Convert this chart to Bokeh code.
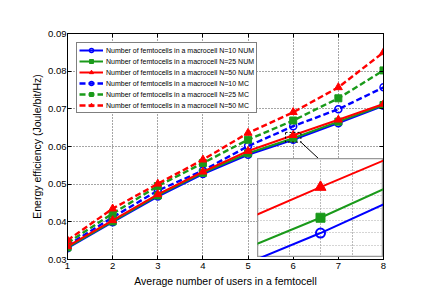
from bokeh.plotting import figure
from bokeh.models import (Range1d, FixedTicker, LinearAxis, Legend, LegendItem,
                          CustomJSTickFormatter, Grid)
from bokeh.embed import file_html
from bokeh.resources import INLINE

# ---------------- data ----------------
users = [1, 2, 3, 4, 5, 6, 7, 8]
num_n10 = [0.0330, 0.0399, 0.0467, 0.0527, 0.0578, 0.0618, 0.0662, 0.0708]
num_n25 = [0.0332, 0.0401, 0.0470, 0.0530, 0.0582, 0.0622, 0.0666, 0.0710]
num_n50 = [0.0335, 0.0404, 0.0473, 0.0533, 0.0588, 0.0630, 0.0671, 0.0713]
mc_n10 = [0.0337, 0.0412, 0.0483, 0.0536, 0.0601, 0.0654, 0.0699, 0.0757]
mc_n25 = [0.0344, 0.0422, 0.0495, 0.0556, 0.0618, 0.0669, 0.0728, 0.0802]
mc_n50 = [0.0351, 0.0435, 0.0501, 0.0565, 0.0636, 0.0691, 0.0757, 0.0850]
labels = [
    "Number of femtocells in a macrocell N=10 NUM",
    "Number of femtocells in a macrocell N=25 NUM",
    "Number of femtocells in a macrocell N=50 NUM",
    "Number of femtocells in a macrocell N=10 MC",
    "Number of femtocells in a macrocell N=25 MC",
    "Number of femtocells in a macrocell N=50 MC",
]
x_ticks = [1, 2, 3, 4, 5, 6, 7, 8]
y_ticks = [0.03, 0.04, 0.05, 0.06, 0.07, 0.08, 0.09]
zoom_x = (5.83, 6.17)
zoom_y = (0.06116, 0.06375)

BLUE = "#0000ff"
GREEN = "#1a9a1a"
RED = "#ff0000"
FONT = "Liberation Sans"

p = figure(width=430, height=300, x_range=Range1d(1, 8), y_range=Range1d(0.03, 0.09),
           output_backend="svg", toolbar_location=None,
           min_border_left=67, min_border_right=47, min_border_top=33, min_border_bottom=41)
p.outline_line_color = "black"
p.outline_line_width = 1
p.background_fill_color = "white"
p.border_fill_color = "white"

for ax in (p.xaxis[0], p.yaxis[0]):
    ax.major_tick_in = 4
    ax.major_tick_out = 0
    ax.minor_tick_line_color = None
    ax.axis_line_color = "black"
    ax.major_label_text_font = FONT
    ax.major_label_text_font_size = "9.5px"
    ax.major_label_text_color = "black"
    ax.axis_label_text_font = FONT
    ax.axis_label_text_font_size = "10.5px"
    ax.axis_label_text_font_style = "normal"
    ax.axis_label_text_color = "black"

p.xaxis.ticker = FixedTicker(ticks=x_ticks)
p.yaxis.ticker = FixedTicker(ticks=y_ticks)
p.xaxis.axis_label = "Average number of users in a femtocell"
p.yaxis.axis_label = "Energy efficiency (Joule/bit/Hz)"
p.xaxis.major_label_standoff = 3
p.xaxis.axis_label_standoff = 3
p.yaxis.major_label_standoff = 1
p.yaxis.axis_label_standoff = 2

blank = CustomJSTickFormatter(code="return ''")
ax_r = LinearAxis(ticker=FixedTicker(ticks=y_ticks), formatter=blank, major_tick_in=4,
                  major_tick_out=0, minor_tick_line_color=None, axis_line_color="black")
ax_t = LinearAxis(ticker=FixedTicker(ticks=x_ticks), formatter=blank, major_tick_in=4,
                  major_tick_out=0, minor_tick_line_color=None, axis_line_color="black")
p.add_layout(ax_r, "right")
p.add_layout(ax_t, "above")

p.xgrid.ticker = FixedTicker(ticks=x_ticks)
p.ygrid.ticker = FixedTicker(ticks=y_ticks)
for g in (p.xgrid[0], p.ygrid[0]):
    g.grid_line_color = "#222222"
    g.grid_line_dash = "1 2"
    g.grid_line_width = 1
    g.grid_line_alpha = 0.8

series = [
    (num_n10, BLUE, "circle", "solid"),
    (num_n25, GREEN, "square", "solid"),
    (num_n50, RED, "triangle", "solid"),
    (mc_n10, BLUE, "circle", "dashed"),
    (mc_n25, GREEN, "square", "dashed"),
    (mc_n50, RED, "triangle", "dashed"),
]
items = [None] * 6
order = [3, 4, 5, 0, 1, 2]
for i in order:
    ys, col, mk, style = series[i]
    dash = "solid" if style == "solid" else "6 3"
    lw = 2 if style == "solid" else 2.4
    lr = p.line(users, ys, line_color=col, line_width=lw, line_dash=dash)
    size = 8 if mk == "triangle" else 7
    if mk == "circle":
        sr = p.scatter(users, ys, marker=mk, size=size, line_color=col, line_width=1.5,
                       fill_color=None)
    else:
        sr = p.scatter(users, ys, marker=mk, size=size, line_color=col, fill_color=col)
    items[i] = LegendItem(label=labels[i], renderers=[lr, sr])

legend = Legend(items=items, location="top_left")
legend.margin = 9
legend.padding = 2
legend.spacing = 1
legend.label_height = 10
legend.glyph_height = 10
legend.glyph_width = 24
legend.label_standoff = 3
legend.label_text_font = FONT
legend.label_text_font_size = "7px"
legend.label_text_color = "black"
legend.border_line_color = "black"
legend.border_line_width = 1
legend.background_fill_alpha = 1
p.add_layout(legend, "center")

# zoom box and connector
p.quad(left=[zoom_x[0]], right=[zoom_x[1]], bottom=[zoom_y[0]], top=[zoom_y[1]],
       fill_color=None, line_color="black", line_dash="2 2", line_width=1)
p.line([zoom_x[1], 6.57], [zoom_y[0], 0.0567], line_color="black", line_width=1)

# ---------------- inset ----------------
ins = figure(width=126, height=99, x_range=Range1d(*zoom_x), y_range=Range1d(*zoom_y),
             output_backend="svg", toolbar_location=None,
             x_axis_location=None, y_axis_location=None,
             min_border_left=0, min_border_right=0, min_border_top=0, min_border_bottom=0)
ins.outline_line_color = "#999999"
ins.outline_line_width = 1.5
ins.background_fill_color = "white"
ins.border_fill_color = "white"
ins.xgrid.visible = False
ins.ygrid.visible = False
xs_step = (zoom_x[1] - zoom_x[0]) / 4
ys_step = (zoom_y[1] - zoom_y[0]) / 8
ins.add_layout(Grid(dimension=0, ticker=FixedTicker(ticks=[zoom_x[0] + k * xs_step for k in (1, 2, 3)]),
                    grid_line_color="#777777", grid_line_dash="1 2", grid_line_width=1))
ins.add_layout(Grid(dimension=1, ticker=FixedTicker(ticks=[zoom_y[0] + k * ys_step for k in range(1, 8)]),
                    grid_line_color="#aaaaaa", grid_line_dash="1 2", grid_line_width=1))
for i in (0, 1, 2):
    ys, col, mk, style = series[i]
    ins.line(users, ys, line_color=col, line_width=2)
    size = 11 if mk == "triangle" else 9
    if mk == "circle":
        ins.scatter(users, ys, marker=mk, size=size, line_color=col, line_width=2, fill_color=None)
    else:
        ins.scatter(users, ys, marker=mk, size=size, line_color=col, fill_color=col)

TEMPLATE = """
{% block contents %}
{% from macros import embed %}
<div style="position: relative; width: 430px; height: 300px;">
  <div style="position: absolute; left: 0px; top: 0px;">{{ embed(roots[0]) }}</div>
  <div style="position: absolute; left: 257px; top: 158px;">{{ embed(roots[1]) }}</div>
</div>
{% endblock %}
"""

open("out.html", "w").write(file_html([p, ins], INLINE, template=TEMPLATE))
